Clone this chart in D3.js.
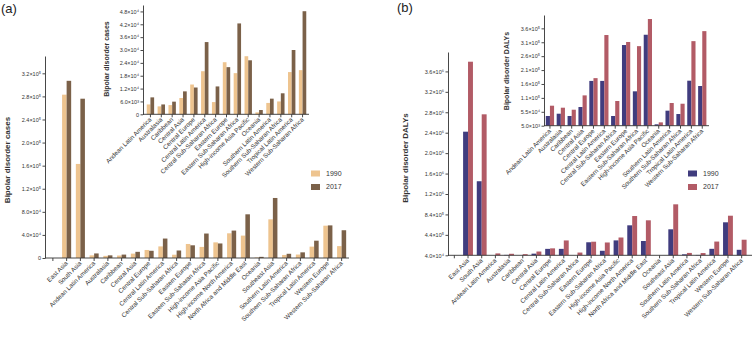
<!DOCTYPE html>
<html>
<head>
<meta charset="utf-8">
<script src="https://cdn.jsdelivr.net/npm/d3@7"></script>
<style>
  body { margin: 0; background: #fff; }
  svg { display: block; font-family: "Liberation Sans", Arial, sans-serif; }
  .axis path, .axis line { stroke: #333; stroke-width: 0.9; }
  .axis text { fill: #333; }
  .ytitle { font-weight: bold; fill: #333; }
</style>
</head>
<body>
<div id="chart"></div>
<script>
// Regions, in the order of the main bar charts
const regions = [
    "East Asia", "South Asia", "Andean Latin America", "Australasia", "Caribbean",
    "Central Asia", "Central Europe", "Central Latin America", "Central Sub-Saharan Africa",
    "Eastern Europe", "Eastern Sub-Saharan Africa", "High-income Asia Pacific",
    "High-income North America", "North Africa and Middle East", "Oceania", "Southeast Asia",
    "Southern Latin America", "Southern Sub-Saharan Africa", "Tropical Latin America",
    "Western Europe", "Western Sub-Saharan Africa"
];

// Regions repeated in the zoomed inset charts
const insetRegions = [
    "Andean Latin America", "Australasia", "Caribbean", "Central Asia", "Central Europe",
    "Central Latin America", "Central Sub-Saharan Africa", "Eastern Europe",
    "Eastern Sub-Saharan Africa", "High-income Asia Pacific", "Oceania",
    "Southern Latin America", "Southern Sub-Saharan Africa", "Tropical Latin America",
    "Western Sub-Saharan Africa"
];

const years = ["1990", "2017"];

// (a) bipolar disorder cases
const cases1990 = [283000, 163000, 4600, 3700, 4300, 7600, 13900, 20100, 5700, 24300, 19200,
    27100, 42800, 38800, 900, 67000, 5300, 6000, 19700, 56000, 20600];
const cases2017 = [307000, 276000, 7900, 4600, 5900, 10700, 12500, 33700, 13000, 22000, 42400,
    25200, 47500, 75700, 2000, 104000, 7300, 9800, 30000, 56500, 48100];

// (b) bipolar disorder DALYs
const dalys1990 = [2460000, 1490000, 39900, 48100, 39900, 72200, 166000, 166000, 39900, 295000,
    128600, 332000, 627000, 320000, 10000, 549000, 59000, 47000, 166800, 686000, 147700];
const dalys2017 = [3830000, 2800000, 76900, 69700, 62500, 114000, 176000, 331000, 93800, 306000,
    291000, 388500, 809000, 725000, 17000, 1038000, 86600, 84000, 309000, 815000, 345000];

// Tick values and their labels
const casesTicks = [0, 40000, 80000, 120000, 160000, 200000, 240000, 280000, 320000];
const casesTickLabels = ["0", "4.0×10⁴", "8.0×10⁴", "1.2×10⁵", "1.6×10⁵", "2.0×10⁵", "2.4×10⁵", "2.8×10⁵", "3.2×10⁵"];
const casesInsetTicks = [0, 6000, 12000, 18000, 24000, 30000, 36000, 42000, 48000];
const casesInsetTickLabels = ["0", "6.0×10³", "1.2×10⁴", "1.8×10⁴", "2.4×10⁴", "3.0×10⁴", "3.6×10⁴", "4.2×10⁴", "4.8×10⁴"];
const dalysTicks = [40000, 440000, 840000, 1240000, 1640000, 2040000, 2440000, 2840000, 3240000, 3640000];
const dalysTickLabels = ["4.0×10⁴", "4.4×10⁵", "8.4×10⁵", "1.2×10⁶", "1.6×10⁶", "2.0×10⁶", "2.4×10⁶", "2.8×10⁶", "3.2×10⁶", "3.6×10⁶"];
const dalysInsetTicks = [5000, 55000, 105000, 155000, 205000, 255000, 305000, 355000];
const dalysInsetTickLabels = ["5.0×10³", "5.5×10⁴", "1.1×10⁵", "1.6×10⁵", "2.1×10⁵", "2.6×10⁵", "3.1×10⁵", "3.6×10⁵"];

const width = 754;
const height = 338;
const casesColors = ["#EEC48F", "#7B6149"];
const dalysColors = ["#403C7E", "#B25B66"];

const svg = d3.select("#chart")
    .append("svg")
    .attr("width", width)
    .attr("height", height);

svg.append("rect").attr("width", width).attr("height", height).attr("fill", "#fff");

function pick(cats, values) {
    return cats.map(c => values[regions.indexOf(c)]);
}

function panel(o) {
    const dom = o.lead ? [""].concat(o.cats) : o.cats;
    const x = d3.scaleBand().domain(dom).range(o.xr);
    const y = d3.scaleLinear().domain(o.yd).range(o.yr);
    const g = svg.append("g");
    const bw = x.step() * o.bar;
    const rows = o.cats.map((c, i) => ({c: c, v: [o.a[i], o.b[i]]}));
    const base = y(o.yd[0]);

    [0, 1].forEach(k => {
        g.selectAll(".bar" + k)
            .data(rows)
            .join("rect")
            .attr("class", "bar" + k)
            .attr("x", d => x(d.c) + x.bandwidth() / 2 - bw + k * bw)
            .attr("width", bw)
            .attr("y", d => Math.min(y(d.v[k]), base))
            .attr("height", d => Math.max(0, base - y(d.v[k])))
            .attr("fill", o.colors[k]);
    });

    // y axis
    g.append("g")
        .attr("class", "axis")
        .attr("transform", `translate(${o.ax},0)`)
        .call(d3.axisLeft(y).tickValues(o.ticks)
            .tickFormat((d, i) => o.labels[i])
            .tickSize(2.5).tickSizeOuter(0).tickPadding(1.5))
        .selectAll("text")
        .attr("font-size", o.tickSize);

    // x axis
    const xa = g.append("g")
        .attr("class", "axis")
        .attr("transform", `translate(0,${base})`)
        .call(d3.axisBottom(x).tickSize(3).tickSizeOuter(0));
    xa.select(".domain").remove();
    xa.append("line")
        .attr("x1", o.ax).attr("x2", o.axEnd)
        .attr("stroke", "#333").attr("stroke-width", 0.9);
    xa.selectAll("text")
        .attr("font-size", o.labelSize)
        .attr("text-anchor", "end")
        .attr("x", -3).attr("y", 3).attr("dy", "0.35em")
        .attr("transform", "rotate(-45)");

    // axis title
    svg.append("text")
        .attr("class", "ytitle")
        .attr("transform", `translate(${o.tx},${o.ty}) rotate(-90)`)
        .attr("text-anchor", "middle")
        .attr("font-size", o.titleSize)
        .text(o.title);
}

function legend(x0, y0, colors) {
    years.forEach((yr, i) => {
        svg.append("rect")
            .attr("x", x0).attr("y", y0 + i * 13.5 - 3)
            .attr("width", 9).attr("height", 6)
            .attr("fill", colors[i]);
        svg.append("text")
            .attr("x", x0 + 15).attr("y", y0 + i * 13.5)
            .attr("dy", "0.35em")
            .attr("font-size", 7).attr("fill", "#333")
            .text(yr);
    });
}

// (a) main
panel({cats: regions, lead: true, xr: [46, 348.5], ax: 45, axEnd: 349,
    yd: [0, 350000], yr: [258, 56], a: cases1990, b: cases2017, bar: 0.33,
    colors: casesColors, ticks: casesTicks, labels: casesTickLabels,
    tickSize: 5.5, labelSize: 6.3, title: "Bipolar disorder cases", tx: 10, ty: 160, titleSize: 8});

// (a) inset
panel({cats: insetRegions, lead: false, xr: [145, 308], ax: 143, axEnd: 309,
    yd: [0, 51000], yr: [114.3, 5], a: pick(insetRegions, cases1990), b: pick(insetRegions, cases2017),
    bar: 0.34, colors: casesColors, ticks: casesInsetTicks, labels: casesInsetTickLabels,
    tickSize: 5.5, labelSize: 6.3, title: "Bipolar disorder cases", tx: 109, ty: 59, titleSize: 7});

// (b) main
panel({cats: regions, lead: true, xr: [447.5, 748.5], ax: 448, axEnd: 752,
    yd: [40000, 4020000], yr: [255.3, 52], a: dalys1990, b: dalys2017, bar: 0.36,
    colors: dalysColors, ticks: dalysTicks, labels: dalysTickLabels,
    tickSize: 5.5, labelSize: 6.3, title: "Bipolar disorder DALYs", tx: 408, ty: 158, titleSize: 8});

// (b) inset
panel({cats: insetRegions, lead: false, xr: [544.5, 707.7], ax: 544, axEnd: 709,
    yd: [5000, 403000], yr: [125.7, 15], a: pick(insetRegions, dalys1990), b: pick(insetRegions, dalys2017),
    bar: 0.38, colors: dalysColors, ticks: dalysInsetTicks, labels: dalysInsetTickLabels,
    tickSize: 5.5, labelSize: 6.3, title: "Bipolar disorder DALYs", tx: 509, ty: 71, titleSize: 7});

legend(311, 173.5, casesColors);
legend(688, 173.5, dalysColors);

// Panel letters
svg.append("text").attr("x", 1).attr("y", 13).attr("font-size", 13).attr("fill", "#222").text("(a)");
svg.append("text").attr("x", 397).attr("y", 12).attr("font-size", 13).attr("fill", "#222").text("(b)");
</script>
</body>
</html>
